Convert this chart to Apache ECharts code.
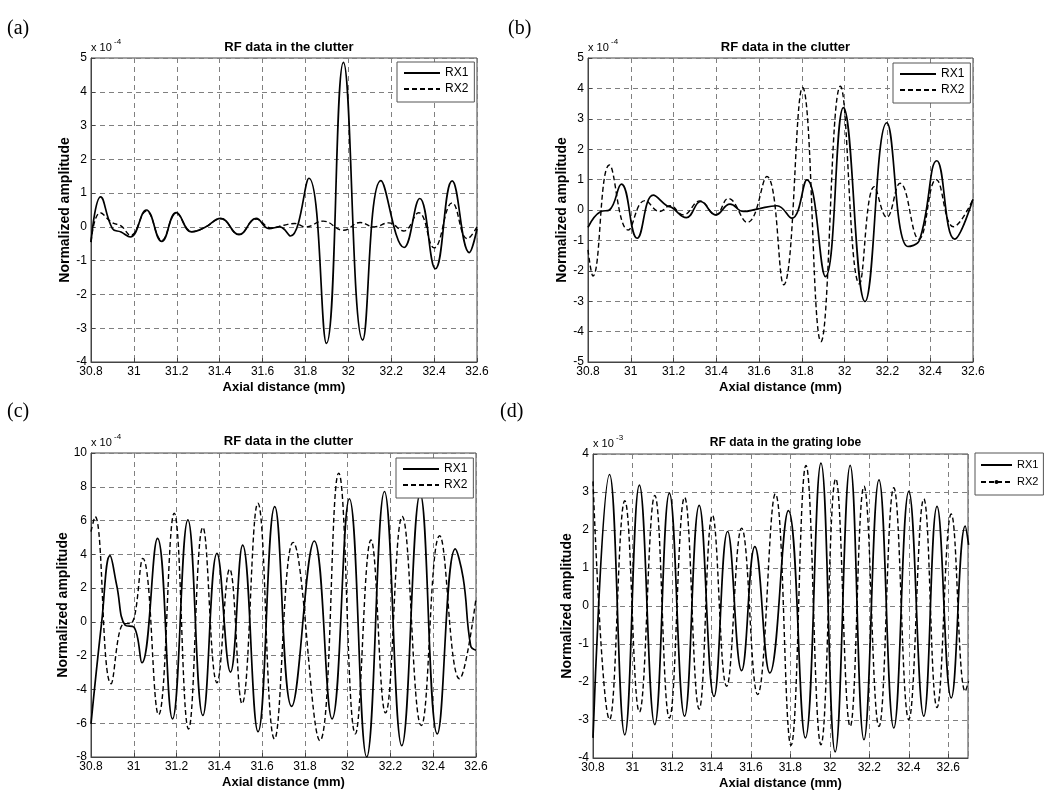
<!DOCTYPE html>
<html>
<head>
<meta charset="utf-8">
<script src="https://cdn.jsdelivr.net/npm/echarts@6/dist/echarts.min.js"></script>
<style>
html,body{margin:0;padding:0;background:#fff;}
#chart{width:1050px;height:801px;}
</style>
</head>
<body>
<div id="chart"></div>
<script>
// ---- Data (amplitudes in units of the axis multiplier) ----
const titles = ['RF data in the clutter','RF data in the clutter','RF data in the clutter','RF data in the grating lobe'];
const panelLabels = ['(a)','(b)','(c)','(d)'];
const multipliers = ['-4','-4','-4','-3'];
const seriesNames = ['RX1','RX2'];

// Panel (a)
const aX1 = [30.8,30.845,30.9,30.94,30.983,31.058,31.13,31.198,31.27,31.33,31.405,31.49,31.57,31.63,31.68,31.73,31.816,31.898,31.977,32.067,32.152,32.26,32.333,32.406,32.484,32.564,32.6];
const aY1 = [-0.45,0.89,-0.05,-0.15,-0.3,0.5,-0.43,0.42,-0.15,-0.02,0.25,-0.23,0.25,-0.05,0.0,-0.27,1.44,-3.45,4.87,-3.35,1.37,-0.61,0.84,-1.24,1.36,-0.76,-0.05];
const aX2 = [30.8,30.843,30.9,30.94,30.985,31.058,31.13,31.198,31.27,31.33,31.405,31.49,31.57,31.64,31.7,31.75,31.8,31.883,31.977,32.055,32.12,32.188,32.258,32.328,32.4,32.484,32.555,32.6];
const aY2 = [-0.45,0.42,0.12,0.03,-0.25,0.47,-0.4,0.4,-0.14,-0.02,0.24,-0.22,0.23,-0.03,0.05,0.1,0.0,0.17,-0.1,0.13,0.0,0.12,-0.12,0.42,-0.62,0.71,-0.35,0.0];

// Panel (b)
const bX1 = [30.8,30.86,30.9,30.956,31.03,31.105,31.17,31.19,31.26,31.327,31.397,31.464,31.527,31.59,31.683,31.753,31.823,31.91,31.994,32.095,32.197,32.295,32.35,32.431,32.514,32.6];
const bY1 = [-0.57,-0.05,0.0,0.85,-0.93,0.49,0.13,0.09,-0.25,0.28,-0.16,0.19,-0.05,0.03,0.14,-0.27,0.99,-2.19,3.37,-3.01,2.87,-1.2,-0.99,1.62,-0.96,0.35];
const bX2 = [30.8,30.823,30.9,30.988,31.066,31.136,31.183,31.245,31.323,31.397,31.456,31.545,31.636,31.715,31.803,31.889,31.98,32.069,32.139,32.197,32.259,32.347,32.428,32.509,32.6];
const bY2 = [-1.31,-2.17,1.48,-0.66,0.31,-0.05,0.14,-0.16,0.3,-0.16,0.38,-0.41,1.1,-2.46,4.03,-4.33,4.07,-2.43,0.77,-0.24,0.88,-0.96,1.0,-0.55,0.35];

// Panel (c)
const cX1 = [30.8,30.85,30.889,30.92,30.96,31.0,31.038,31.111,31.181,31.253,31.323,31.389,31.452,31.509,31.581,31.659,31.738,31.844,31.927,32.008,32.089,32.172,32.253,32.339,32.419,32.503,32.54,32.575,32.6];
const cY1 = [-6.04,0.0,3.92,2.18,-0.2,-0.3,-2.42,4.95,-5.74,6.04,-5.54,4.06,-2.97,4.55,-6.5,6.83,-5.0,4.79,-5.74,7.29,-8.0,7.72,-7.33,7.58,-6.63,4.32,2.6,-1.4,-1.68];
const cX2 = [30.8,30.819,30.894,30.955,30.985,31.042,31.116,31.189,31.256,31.323,31.389,31.448,31.506,31.58,31.658,31.745,31.87,31.958,32.036,32.109,32.177,32.255,32.344,32.43,32.523,32.6];
const cY2 = [5.35,6.24,-3.66,-0.1,-0.1,3.76,-5.5,6.44,-6.34,5.6,-3.6,3.13,-4.85,7.03,-6.93,4.71,-7.03,8.81,-6.63,4.85,-5.39,6.24,-6.14,5.1,-3.37,1.39];

// Panel (d)
const dX1 = [30.8,30.884,30.961,31.035,31.113,31.187,31.264,31.338,31.413,31.482,31.553,31.62,31.696,31.79,31.876,31.955,32.027,32.103,32.173,32.249,32.324,32.4,32.476,32.543,32.615,32.686,32.703];
const dY1 = [-3.47,3.46,-3.39,3.18,-3.12,2.97,-2.9,2.65,-2.38,1.96,-1.7,1.56,-1.76,2.51,-3.47,3.76,-3.84,3.7,-3.52,3.32,-3.21,3.02,-2.9,2.62,-2.42,2.1,1.61];
const dX2 = [30.8,30.884,30.961,31.035,31.113,31.187,31.264,31.338,31.405,31.477,31.553,31.634,31.724,31.803,31.879,31.955,32.03,32.103,32.173,32.249,32.324,32.4,32.476,32.543,32.615,32.686,32.703];
const dY2 = [3.28,-2.99,2.77,-2.79,2.91,-2.95,2.86,-2.71,2.39,-2.11,2.05,-2.33,2.95,-3.67,3.7,-3.65,3.35,-3.17,3.15,-3.17,3.11,-2.99,2.82,-2.67,2.42,-2.25,-1.98];

const yRanges = [[-4,5,1],[-5,5,1],[-8,10,2],[-4,4,1]];
const xRanges = [[30.8,32.6],[30.8,32.6],[30.8,32.6],[30.8,32.7]];

// ---- Layout ----
const SANS = 'Arial, "Liberation Sans", Helvetica, sans-serif';
const SERIF = '"Times New Roman", "Liberation Serif", serif';
const grids = [
  {left:91, top:58, width:386, height:304},
  {left:588, top:58, width:385, height:304},
  {left:91, top:453, width:385, height:304},
  {left:593, top:454, width:375, height:304}
];
const legendPos = [
  {left:397, top:62},
  {left:893, top:63},
  {left:396, top:458},
  {left:975, top:453}
];
const labelPos = [[7,19],[508,19],[7,402],[500,402]];

const zip = (xs, ys) => xs.map((x,i)=>[x, ys[i]]);
const panelData = [
  [zip(aX1,aY1), zip(aX2,aY2)],
  [zip(bX1,bY1), zip(bX2,bY2)],
  [zip(cX1,cY1), zip(cX2,cY2)],
  [zip(dX1,dY1), zip(dX2,dY2)]
];
const prefixes = ['a','b','c','d'];
const HIDE = {color:'rgba(0,0,0,0)', borderWidth:0};

const gridDash = [5,4];
const option = {
  animation:false,
  backgroundColor:'#fff',
  grid: grids.map(g => Object.assign({show:true, borderColor:'#444', borderWidth:1, backgroundColor:'#fff', containLabel:false}, g)),
  title: grids.map((g,i)=>({
    text: titles[i],
    left: g.left + g.width/2,
    top: i<2 ? 36 : (i===2 ? 430 : 432),
    textAlign:'center',
    textStyle:{fontFamily:SANS, fontWeight:'bold', fontSize: i===3 ? 12 : 13, color:'#000'}
  })),
  xAxis: grids.map((g,i)=>({
    type:'value', gridIndex:i, min:xRanges[i][0], max:xRanges[i][1], interval:0.2,
    name:'Axial distance (mm)', nameLocation:'middle', nameGap:19,
    nameTextStyle:{fontFamily:SANS, fontWeight:'bold', fontSize:13, color:'#000'},
    axisLine:{show:true, onZero:false, lineStyle:{color:'#444'}},
    axisTick:{show:true, inside:true, length:4, lineStyle:{color:'#444'}},
    axisLabel:{fontFamily:SANS, fontSize:12, color:'#000', margin:4, showMaxLabel: i===3 ? false : true,
      formatter: v => String(Math.round(v*10)/10)},
    splitLine:{show:true, lineStyle:{color:'#808080', type:gridDash, width:1}}
  })),
  yAxis: grids.map((g,i)=>({
    type:'value', gridIndex:i, min:yRanges[i][0], max:yRanges[i][1], interval:yRanges[i][2],
    name:'Normalized amplitude', nameLocation:'middle', nameGap: i===3 ? 17 : 11, nameRotate:90,
    nameTextStyle:{fontFamily:SANS, fontWeight:'bold', fontSize:14, color:'#000'},
    axisLine:{show:true, onZero:false, lineStyle:{color:'#444'}},
    axisTick:{show:true, inside:true, length:4, lineStyle:{color:'#444'}},
    axisLabel:{fontFamily:SANS, fontSize:12, color:'#000', margin:4},
    splitLine:{show:true, lineStyle:{color:'#808080', type:gridDash, width:1}}
  })),
  legend: grids.map((g,i)=>({
    orient:'vertical',
    left:legendPos[i].left, top:legendPos[i].top,
    data: seriesNames.map((n,k)=>{
      const item = {name: prefixes[i]+n};
      if (!(i===3 && k===1)) item.itemStyle = HIDE;
      return item;
    }),
    formatter: n => n.slice(1),
    itemWidth: i===3 ? 31 : 36,
    itemHeight: i===3 ? 5 : 10,
    itemGap: i===3 ? 3 : 2,
    padding: i===3 ? [5,5,6,5] : [4,6,6,6],
    backgroundColor:'#fff', borderColor:'#555', borderWidth:1, borderRadius:0,
    selectedMode:false,
    textStyle:{fontFamily:SANS, fontSize: i===3 ? 11 : 12, color:'#000', lineHeight:14}
  })),
  series: [],
  graphic: []
};

panelData.forEach((pd,i)=>{
  pd.forEach((data,k)=>{
    option.series.push({
      type:'line', name: prefixes[i]+seriesNames[k],
      xAxisIndex:i, yAxisIndex:i, data:data,
      smooth:0.45,
      symbol: (i===3 && k===1) ? 'circle' : 'none',
      symbolSize:4, showSymbol:false,
      itemStyle:{color:'#000'},
      lineStyle:{color:'#000', width: k===0 ? 1.7 : 1.4, type: k===0 ? 'solid' : [5,3]},
      z: k===0 ? 3 : 2
    });
  });
});

grids.forEach((g,i)=>{
  option.graphic.push({
    type:'text', left:labelPos[i][0], top:labelPos[i][1],
    style:{text:panelLabels[i], font:'20px '+SERIF, fill:'#000'}
  });
  option.graphic.push({
    type:'text', left:g.left, top:g.top-16,
    style:{text:'x 10', font:'11px '+SANS, fill:'#000'}
  });
  option.graphic.push({
    type:'text', left:g.left+23, top:g.top-20,
    style:{text:multipliers[i], font:'8px '+SANS, fill:'#000'}
  });
});

const chart = echarts.init(document.getElementById('chart'), null, {renderer:'canvas'});
chart.setOption(option);
</script>
</body>
</html>
